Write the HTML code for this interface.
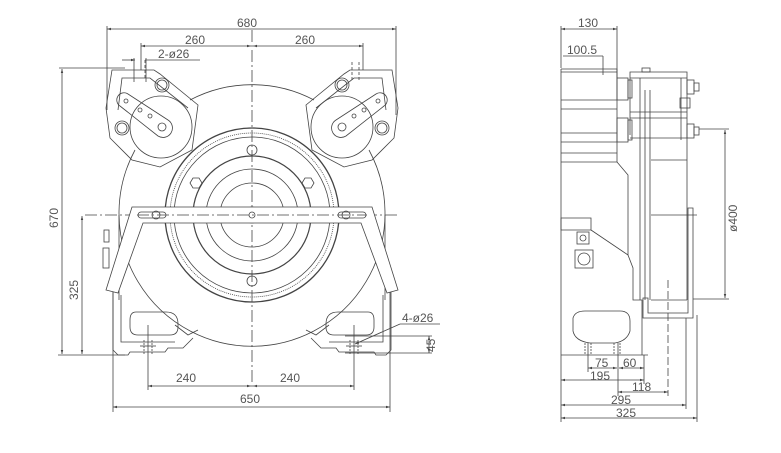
<!DOCTYPE html>
<html><head><meta charset="utf-8"><style>
html,body{margin:0;padding:0;background:#fff;}
svg{display:block;}
text{font-family:"Liberation Sans",sans-serif;font-size:12px;fill:#555;}
</style></head><body>
<svg width="781" height="453" viewBox="0 0 781 453" xmlns="http://www.w3.org/2000/svg">
<defs>
<marker id="a" viewBox="0 0 10 10" refX="10" refY="5" markerWidth="7" markerHeight="5" orient="auto-start-reverse"><path d="M0,2 L10,5 L0,8z" fill="#444"/></marker>
</defs>
<g fill="none" stroke="#444" stroke-width="0.8">
<line x1="107" y1="29" x2="396" y2="29" marker-start="url(#a)" marker-end="url(#a)"/>
<line x1="107" y1="26" x2="107" y2="110"/><line x1="396" y1="26" x2="396" y2="115"/>
<line x1="141" y1="46" x2="251" y2="46" marker-start="url(#a)" marker-end="url(#a)"/>
<line x1="253" y1="46" x2="363" y2="46" marker-start="url(#a)" marker-end="url(#a)"/>
<line x1="141" y1="43" x2="141" y2="70"/><line x1="363" y1="43" x2="363" y2="70"/>
<line x1="122" y1="60" x2="135" y2="60" marker-end="url(#a)"/><line x1="145" y1="60" x2="200" y2="60"/>
<line x1="134" y1="58" x2="134" y2="82"/><line x1="146" y1="58" x2="146" y2="82"/>
<line x1="62" y1="69" x2="62" y2="354" marker-start="url(#a)" marker-end="url(#a)"/>
<line x1="59" y1="68" x2="125" y2="68"/>
<line x1="82" y1="216" x2="82" y2="354" marker-start="url(#a)" marker-end="url(#a)"/>
<line x1="58" y1="355" x2="125" y2="355"/>
<line x1="148" y1="386" x2="251" y2="386" marker-start="url(#a)" marker-end="url(#a)"/>
<line x1="253" y1="386" x2="354" y2="386" marker-start="url(#a)" marker-end="url(#a)"/>
<line x1="148" y1="325" x2="148" y2="390"/><line x1="354" y1="325" x2="354" y2="390"/>
<line x1="113" y1="407" x2="390" y2="407" marker-start="url(#a)" marker-end="url(#a)"/>
<line x1="113" y1="290" x2="113" y2="412"/><line x1="390" y1="290" x2="390" y2="412"/>
<line x1="440" y1="324" x2="400" y2="324"/><line x1="400" y1="324" x2="355" y2="344" marker-end="url(#a)"/>
<line x1="345" y1="336" x2="432" y2="336"/><line x1="345" y1="353" x2="432" y2="353"/>
<line x1="429" y1="336" x2="429" y2="353" marker-start="url(#a)" marker-end="url(#a)"/>
<line x1="252" y1="30" x2="252" y2="390" stroke-dasharray="12,3,2,3"/>
<line x1="85" y1="215" x2="398" y2="215" stroke-dasharray="12,3,2,3"/>
<path d="M135,150 A133,133 0 1 0 369,150"/>
<path d="M190,100 A133,133 0 0 1 314,100"/>
<line x1="119" y1="215" x2="119" y2="300"/>
<line x1="385" y1="215" x2="385" y2="300"/>
<circle cx="252" cy="215" r="87" stroke-width="1.3"/>
<circle cx="252" cy="215" r="82" stroke-dasharray="1,1"/>
<circle cx="252" cy="215" r="78"/>
<circle cx="252" cy="215" r="59" stroke-width="1.2"/>
<circle cx="252" cy="215" r="46"/>
<circle cx="252" cy="215" r="32"/>
<circle cx="252" cy="215" r="8"/>
<circle cx="252" cy="215" r="3"/>
<circle cx="252" cy="150" r="5"/><circle cx="252" cy="281" r="5"/>
<polygon points="190,183 193,178 199,178 202,183 199,188 193,188"/>
<polygon points="302,183 305,178 311,178 314,183 311,188 305,188"/>
<polygon points="106,108 112,70 154,70 160,74 198,105 192,150 160,167 132,160 110,138"/>
<polyline points="118,110 122,78 150,78 188,108"/>
<circle cx="161" cy="127" r="31"/>
<circle cx="162" cy="85" r="7"/><circle cx="162" cy="85" r="5"/>
<circle cx="122" cy="128" r="7"/><circle cx="122" cy="128" r="5"/>
<path d="M128,94 L168,120 A9,9 0 0 1 158,136 L120,106 A7,7 0 0 1 128,94z"/>
<circle cx="162" cy="127" r="4"/><circle cx="126" cy="101" r="2"/><circle cx="140" cy="110" r="2"/><circle cx="150" cy="116" r="2"/>
<polygon points="398,108 392,70 350,70 344,74 306,105 312,150 344,167 372,160 394,138"/>
<polyline points="386,110 382,78 354,78 316,108"/>
<circle cx="342" cy="127" r="31"/>
<circle cx="342" cy="85" r="7"/><circle cx="342" cy="85" r="5"/>
<circle cx="382" cy="128" r="7"/><circle cx="382" cy="128" r="5"/>
<path d="M376,94 L336,120 A9,9 0 0 0 346,136 L384,106 A7,7 0 0 0 376,94z"/>
<circle cx="342" cy="127" r="4"/><circle cx="378" cy="101" r="2"/><circle cx="364" cy="110" r="2"/><circle cx="354" cy="116" r="2"/>
<line x1="145" y1="60" x2="145" y2="80" stroke-dasharray="3,2"/><line x1="359" y1="62" x2="359" y2="80" stroke-dasharray="3,2"/>
<line x1="352" y1="62" x2="352" y2="80" stroke-dasharray="3,2"/>
<polygon points="132,207 372,207 398,290 387,293 361,223 143,223 118,293 106,290" fill="#fff"/>
<line x1="137" y1="215" x2="367" y2="215" stroke-dasharray="12,3,2,3"/>
<rect x="138" y="212" width="28" height="6" rx="3"/><circle cx="156" cy="215" r="4"/>
<rect x="338" y="212" width="28" height="6" rx="3"/><circle cx="346" cy="215" r="4"/>
<circle cx="252" cy="215" r="3"/>
<rect x="104" y="230" width="5" height="12"/><rect x="103" y="248" width="6" height="20"/>
<polyline points="113,292 113,350 118,355 128,355 130,352 165,352 168,348 183,348 193,338"/>
<polyline points="121,295 121,342 175,342"/>
<path d="M136,312 h30 q12,0 12,12 v3 q0,8 -8,8 h-32 q-8,0 -8,-8 v-7 q0,-8 6,-8z"/>
<polyline points="175,325 188,335 198,330"/>
<polyline points="391,292 391,350 386,355 376,355 374,352 339,352 336,348 321,348 311,338"/>
<polyline points="383,295 383,342 329,342"/>
<path d="M368,312 h-30 q-12,0 -12,12 v3 q0,8 8,8 h32 q8,0 8,-8 v-7 q0,-8 -6,-8z"/>
<polyline points="329,325 316,335 306,330"/>
<line x1="144" y1="340" x2="144" y2="355" stroke-dasharray="2,1"/><line x1="152" y1="340" x2="152" y2="355" stroke-dasharray="2,1"/>
<line x1="350" y1="340" x2="350" y2="355" stroke-dasharray="2,1"/><line x1="358" y1="340" x2="358" y2="355" stroke-dasharray="2,1"/>
<line x1="140" y1="346" x2="156" y2="346"/><line x1="346" y1="346" x2="362" y2="346"/>

<line x1="561" y1="29" x2="617" y2="29" marker-start="url(#a)" marker-end="url(#a)"/>
<line x1="561" y1="26" x2="561" y2="68"/><line x1="617" y1="26" x2="617" y2="78"/>
<line x1="563" y1="56" x2="603" y2="56"/><line x1="603" y1="56" x2="603" y2="75"/>
<polyline points="561,69 617,69 617,162 628,175 628,255 633,268 633,300 642,300 642,355"/>
<line x1="561" y1="69" x2="561" y2="355"/><line x1="561" y1="72" x2="617" y2="72"/>
<line x1="561" y1="100" x2="617" y2="100"/><line x1="561" y1="109" x2="617" y2="109"/>
<line x1="561" y1="133" x2="617" y2="133"/><line x1="561" y1="142" x2="617" y2="142"/>
<line x1="561" y1="153" x2="617" y2="153"/><line x1="561" y1="162" x2="617" y2="162"/>
<rect x="617" y="78" width="11" height="22"/><rect x="628" y="80" width="4" height="18"/>
<rect x="617" y="118" width="11" height="24"/><rect x="628" y="120" width="4" height="20"/>
<polyline points="630,135 630,72 687,72 687,135"/><line x1="630" y1="78" x2="687" y2="78"/>
<line x1="640" y1="78" x2="640" y2="300"/><line x1="645" y1="90" x2="645" y2="300"/>
<line x1="650" y1="90" x2="650" y2="300"/><line x1="630" y1="112" x2="687" y2="112"/>
<line x1="630" y1="118" x2="687" y2="118"/><line x1="630" y1="138" x2="687" y2="138"/>
<line x1="651" y1="160" x2="687" y2="160"/><line x1="687" y1="135" x2="687" y2="300"/>
<line x1="651" y1="300" x2="687" y2="300"/><line x1="681" y1="78" x2="681" y2="140"/>
<rect x="687" y="80" width="7" height="14"/><rect x="694" y="83" width="5" height="8"/>
<rect x="687" y="124" width="7" height="14"/><rect x="694" y="127" width="5" height="8"/>
<rect x="680" y="98" width="10" height="10"/><rect x="642" y="68" width="8" height="4"/>
<line x1="651" y1="215" x2="697" y2="215"/>
<path d="M643,298 v20 h50 v-110 h-5 v105 h-40 v-15z"/>
<path d="M561,218 h30 v12 h-30z"/><path d="M591,230 l37,25"/>
<rect x="577" y="232" width="12" height="12"/><circle cx="583" cy="238" r="3"/>
<rect x="575" y="250" width="18" height="18"/><circle cx="584" cy="259" r="6"/>
<path d="M573,318 q2,-7 12,-7 h35 q10,0 10,10 v10 q-3,10 -15,12 h-25 q-15,-2 -17,-12z"/>
<line x1="585" y1="343" x2="585" y2="355" stroke-dasharray="2,1"/><line x1="591" y1="343" x2="591" y2="355" stroke-dasharray="2,1"/>
<line x1="614" y1="343" x2="614" y2="355" stroke-dasharray="2,1"/><line x1="620" y1="343" x2="620" y2="355" stroke-dasharray="2,1"/>
<line x1="561" y1="355" x2="648" y2="355"/>
<line x1="668" y1="280" x2="668" y2="396" stroke-dasharray="8,3"/>
<line x1="725" y1="130" x2="725" y2="298" marker-start="url(#a)" marker-end="url(#a)"/>
<line x1="699" y1="129" x2="729" y2="129"/><line x1="693" y1="299" x2="729" y2="299"/>
<line x1="588" y1="368" x2="617" y2="368" marker-start="url(#a)" marker-end="url(#a)"/>
<line x1="619" y1="368" x2="644" y2="368" marker-start="url(#a)" marker-end="url(#a)"/>
<line x1="588" y1="343" x2="588" y2="372"/><line x1="618" y1="343" x2="618" y2="396"/>
<line x1="644" y1="355" x2="644" y2="384"/>
<line x1="561" y1="380" x2="644" y2="380" marker-start="url(#a)" marker-end="url(#a)"/>
<line x1="618" y1="392" x2="668" y2="392" marker-start="url(#a)" marker-end="url(#a)"/>
<line x1="561" y1="405" x2="686" y2="405" marker-start="url(#a)" marker-end="url(#a)"/>
<line x1="686" y1="318" x2="686" y2="409"/>
<line x1="561" y1="418" x2="697" y2="418" marker-start="url(#a)" marker-end="url(#a)"/>
<line x1="697" y1="315" x2="697" y2="422"/><line x1="561" y1="355" x2="561" y2="422"/>
</g>
<text x="237" y="27">680</text>
<text x="185" y="44">260</text>
<text x="295" y="44">260</text>
<text x="158" y="58">2-ø26</text>
<text x="176" y="382">240</text>
<text x="280" y="382">240</text>
<text x="240" y="403">650</text>
<text x="402" y="322">4-ø26</text>
<text transform="translate(435,352) rotate(-90)">45</text>
<text transform="translate(58,228) rotate(-90)">670</text>
<text transform="translate(78,300) rotate(-90)">325</text>
<text x="578" y="27">130</text>
<text x="567" y="54">100.5</text>
<text x="595" y="367">75</text>
<text x="623" y="367">60</text>
<text x="590" y="380">195</text>
<text x="632" y="391">118</text>
<text x="611" y="404">295</text>
<text x="616" y="417">325</text>
<text transform="translate(737,232) rotate(-90)">ø400</text>
</svg>
</body></html>
